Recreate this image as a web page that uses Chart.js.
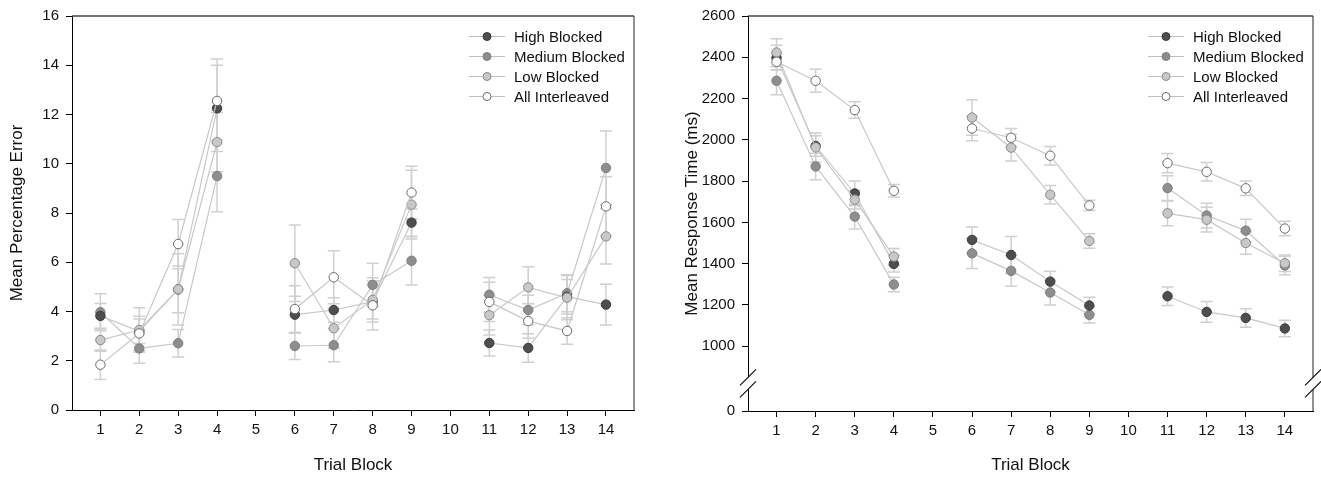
<!DOCTYPE html>
<html>
<head>
<meta charset="utf-8">
<script src="https://cdn.jsdelivr.net/npm/chart.js@4.4.1/dist/chart.umd.min.js"></script>
<style>
    body { margin: 0; background: #fff; }
    #wrap { position: relative; width: 1321px; height: 480px; }
    canvas { position: absolute; top: 0; }
</style>
</head>
<body>
<div id="wrap">
    <canvas id="errChart" width="660" height="480" style="left:0"></canvas>
    <canvas id="rtChart" width="661" height="480" style="left:660px"></canvas>
</div>
<script>
let blocks = [1, 2, 3, 4, 5, 6, 7, 8, 9, 10, 11, 12, 13, 14];
let xTicks = [1, 2, 3, 4, 5, 6, 7, 8, 9, 10, 11, 12, 13, 14];
let seriesNames = ['High Blocked', 'Medium Blocked', 'Low Blocked', 'All Interleaved'];

// left panel: mean percentage error (blocks 5 and 10 empty)
let errHigh = [3.82, 3.2, 4.9, 12.25, null, 3.87, 4.06, 4.4, 7.61, null, 2.72, 2.52, 4.6, 4.28];
let errMedium = [3.97, 2.5, 2.71, 9.5, null, 2.6, 2.63, 5.08, 6.06, null, 4.68, 4.06, 4.74, 9.83];
let errLow = [2.84, 3.25, 4.9, 10.88, null, 5.96, 3.32, 4.47, 8.34, null, 3.85, 4.98, 4.56, 7.05];
let errAll = [1.84, 3.11, 6.74, 12.55, null, 4.1, 5.39, 4.25, 8.83, null, 4.39, 3.61, 3.21, 8.27];
let errHighSe = [0.5, 0.5, 1.45, 1.75, null, 0.75, 0.5, 0.7, 0.55, null, 0.53, 0.58, 0.7, 0.83];
let errMediumSe = [0.75, 0.6, 0.56, 1.45, null, 0.55, 0.67, 0.88, 0.98, null, 0.7, 0.6, 0.75, 1.5];
let errLowSe = [0.45, 0.9, 0.95, 1.2, null, 1.55, 0.8, 0.9, 1.4, null, 0.8, 0.84, 0.9, 1.12];
let errAllSe = [0.6, 0.7, 1.0, 1.7, null, 0.95, 1.08, 1.0, 1.07, null, 0.8, 0.7, 0.54, 1.2];
let errTicks = [0, 2, 4, 6, 8, 10, 12, 14, 16];

// right panel: mean response time in ms
let rtHigh = [2398, 1970, 1740, 1399, null, 1515, 1442, 1313, 1197, null, 1242, 1166, 1137, 1086];
let rtMedium = [2286, 1871, 1628, 1299, null, 1450, 1365, 1260, 1152, null, 1766, 1633, 1560, 1391];
let rtLow = [2423, 1963, 1710, 1434, null, 2108, 1962, 1734, 1510, null, 1644, 1613, 1500, 1402];
let rtAll = [2378, 2286, 2144, 1753, null, 2055, 2010, 1923, 1682, null, 1887, 1845, 1765, 1570];
let rtHighSe = [60, 50, 60, 40, null, 63, 90, 50, 40, null, 45, 50, 45, 40];
let rtMediumSe = [68, 64, 60, 35, null, 73, 75, 60, 40, null, 60, 60, 55, 45];
let rtLowSe = [67, 70, 45, 40, null, 86, 65, 45, 35, null, 60, 60, 55, 40];
let rtAllSe = [40, 56, 40, 30, null, 60, 45, 45, 25, null, 47, 45, 35, 35];
let rtTicks = [0, 1000, 1200, 1400, 1600, 1800, 2000, 2200, 2400, 2600];
let rtAxisFloor = 686; // the broken axis shows "0" here

let fontFamily = '"Liberation Sans", Arial, sans-serif';
Chart.defaults.font.family = fontFamily;
Chart.defaults.color = '#111';

let styles = [
    { fill: '#4e4e4e', stroke: '#3a3a3a', order: 2 },
    { fill: '#8e8e8e', stroke: '#7c7c7c', order: 3 },
    { fill: '#c8c8c8', stroke: '#8a8a8a', order: 1 },
    { fill: '#ffffff', stroke: '#6a6a6a', order: 0 }
];

function makeDatasets(values, errors) {
    return values.map(function (vals, i) {
        return {
            label: seriesNames[i],
            data: blocks.map(function (b, j) { return { x: b, y: vals[j] }; }),
            errors: errors[i],
            borderColor: '#c8c8c8',
            borderWidth: 1.2,
            pointRadius: 4.7,
            pointBorderWidth: 1,
            pointBackgroundColor: styles[i].fill,
            pointBorderColor: styles[i].stroke,
            spanGaps: false,
            order: styles[i].order
        };
    });
}

let errorBars = {
    id: 'errorBars',
    beforeDatasetsDraw(chart) {
        let ctx = chart.ctx, xs = chart.scales.x, ys = chart.scales.y;
        ctx.save();
        ctx.strokeStyle = '#d0d0d0';
        ctx.lineWidth = 1.5;
        chart.data.datasets.forEach(function (ds) {
            ds.data.forEach(function (p, j) {
                let e = ds.errors[j];
                if (p.y == null || e == null) return;
                let x = xs.getPixelForValue(p.x);
                let y1 = ys.getPixelForValue(p.y - e);
                let y2 = ys.getPixelForValue(p.y + e);
                ctx.beginPath();
                ctx.moveTo(x, y1); ctx.lineTo(x, y2);
                ctx.moveTo(x - 6, y1); ctx.lineTo(x + 6, y1);
                ctx.moveTo(x - 6, y2); ctx.lineTo(x + 6, y2);
                ctx.stroke();
            });
        });
        ctx.restore();
    }
};

let frame = {
    id: 'frame',
    afterDraw(chart, args, opts) {
        let ctx = chart.ctx, a = chart.chartArea;
        ctx.save();
        ctx.strokeStyle = '#444';
        ctx.lineWidth = 1.5;
        ctx.beginPath(); ctx.moveTo(a.left, a.top); ctx.lineTo(a.right, a.top); ctx.stroke();
        ctx.strokeStyle = '#222';
        ctx.lineWidth = 1;
        ctx.beginPath(); ctx.moveTo(a.right, a.top); ctx.lineTo(a.right, a.bottom); ctx.stroke();
        if (opts.breakAt != null) {
            let yb = chart.scales.y.getPixelForValue(opts.breakAt);
            [a.left, a.right].forEach(function (x) {
                ctx.fillStyle = '#fff';
                ctx.fillRect(x - 2, yb - 6, 4, 12);
                ctx.strokeStyle = '#111';
                ctx.lineWidth = 1.2;
                ctx.beginPath();
                ctx.moveTo(x - 8, yb + 2); ctx.lineTo(x + 8, yb - 14);
                ctx.moveTo(x - 8, yb + 14); ctx.lineTo(x + 8, yb - 2);
                ctx.stroke();
            });
        }
        ctx.restore();
    }
};

let lineLegend = {
    id: 'lineLegend',
    afterDraw(chart) {
        let ctx = chart.ctx, a = chart.chartArea;
        let x0 = a.right - 165;
        ctx.save();
        ctx.font = '15px ' + fontFamily;
        ctx.textBaseline = 'middle';
        seriesNames.forEach(function (name, i) {
            let y = a.top + 20.5 + i * 20;
            ctx.strokeStyle = '#c0c0c0';
            ctx.lineWidth = 1.2;
            ctx.beginPath(); ctx.moveTo(x0, y); ctx.lineTo(x0 + 36, y); ctx.stroke();
            ctx.beginPath();
            ctx.arc(x0 + 18, y, 4, 0, Math.PI * 2);
            ctx.fillStyle = styles[i].fill;
            ctx.fill();
            ctx.strokeStyle = styles[i].stroke;
            ctx.lineWidth = 1;
            ctx.stroke();
            ctx.fillStyle = '#111';
            ctx.fillText(name, x0 + 45, y + 1);
        });
        ctx.restore();
    }
};

function axisGrid() {
    return { drawOnChartArea: false, drawTicks: true, tickLength: 6, tickColor: '#000' };
}

function makeChart(id, datasets, cfg) {
    return new Chart(document.getElementById(id), {
        type: 'line',
        data: { datasets: datasets },
        plugins: [errorBars, frame, lineLegend],
        options: {
            responsive: false,
            animation: false,
            devicePixelRatio: 1,
            layout: { padding: { top: 16, right: cfg.padRight, left: 0, bottom: 0 } },
            plugins: {
                legend: { display: false },
                tooltip: { enabled: false },
                frame: { breakAt: cfg.breakAt }
            },
            scales: {
                x: {
                    type: 'linear',
                    min: 0.27,
                    max: 14.72,
                    afterBuildTicks: function (s) { s.ticks = xTicks.map(function (v) { return { value: v }; }); },
                    afterFit: function (s) { s.height = cfg.xHeight; },
                    ticks: { font: { size: 15 }, padding: 5, autoSkip: false, maxRotation: 0 },
                    grid: axisGrid(),
                    border: { display: true, color: '#000', width: 1 },
                    title: { display: true, text: 'Trial Block', font: { size: 17 }, padding: { top: 0, bottom: 4 } }
                },
                y: {
                    type: 'linear',
                    min: cfg.yMin,
                    max: cfg.yMax,
                    afterBuildTicks: function (s) { s.ticks = cfg.yTicks.map(function (v) { return { value: v }; }); },
                    afterFit: function (s) { s.width = cfg.yWidth; },
                    ticks: { font: { size: 15 }, padding: 7, callback: cfg.yLabel },
                    grid: axisGrid(),
                    border: { display: true, color: '#000', width: 1 },
                    title: { display: true, text: cfg.yTitle, font: { size: 17 }, padding: { top: cfg.titlePad, bottom: 0 } }
                }
            }
        }
    });
}

makeChart('errChart',
    makeDatasets([errHigh, errMedium, errLow, errAll], [errHighSe, errMediumSe, errLowSe, errAllSe]),
    {
        padRight: 26, xHeight: 70, yWidth: 72, titlePad: 7,
        yMin: 0, yMax: 16, yTicks: errTicks,
        yLabel: function (v) { return String(v); },
        yTitle: 'Mean Percentage Error', breakAt: null
    });

makeChart('rtChart',
    makeDatasets([rtHigh, rtMedium, rtLow, rtAll], [rtHighSe, rtMediumSe, rtLowSe, rtAllSe]),
    {
        padRight: 8, xHeight: 69, yWidth: 88, titlePad: 22,
        yMin: rtAxisFloor, yMax: 2600,
        yTicks: rtTicks.map(function (v) { return v === 0 ? rtAxisFloor : v; }),
        yLabel: function (v) { return v === rtAxisFloor ? '0' : String(v); },
        yTitle: 'Mean Response Time (ms)', breakAt: 820
    });
</script>
</body>
</html>
